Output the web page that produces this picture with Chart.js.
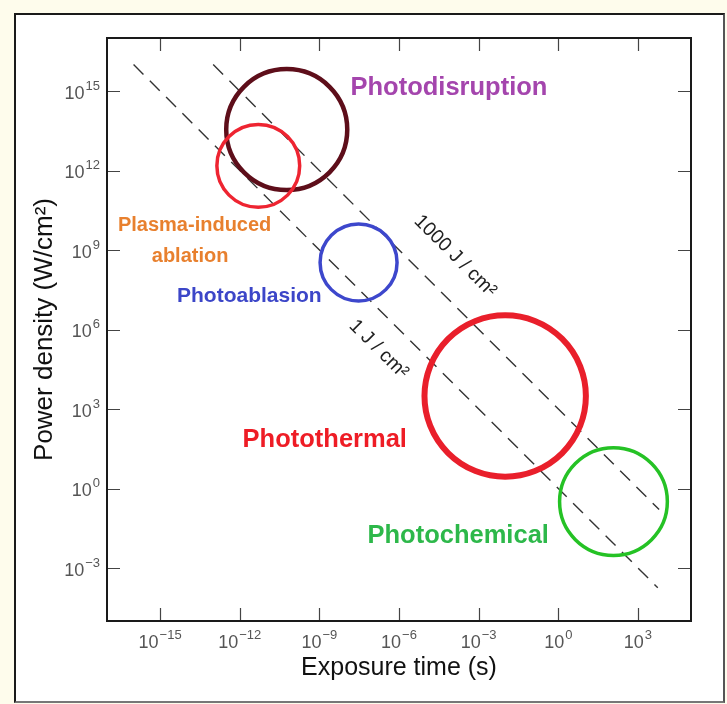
<!DOCTYPE html>
<html>
<head>
<meta charset="utf-8">
<title>Laser-tissue interaction regimes</title>
<script src="https://cdn.jsdelivr.net/npm/chart.js@4.4.1/dist/chart.umd.min.js"></script>
<style>
    html, body { margin: 0; padding: 0; }
    body { width: 727px; height: 704px; background: #fefcec; position: relative; overflow: hidden; }
    #frame {
        position: absolute; left: 14px; top: 13px; width: 711px; height: 690px;
        background: #fff; border: 2px solid #1a1a1a; border-bottom-color: #777; border-right-color: #555;
        box-sizing: border-box;
    }
    #chart { position: absolute; left: 0; top: 0; }
</style>
</head>
<body>
<div id="frame"></div>
<canvas id="chart" width="727" height="704"></canvas>
<script>
// regimes: centre (exposure time s, power density W/cm2) and radius in decades
const regimes = ['Photodisruption', 'Plasma-induced ablation', 'Photoablasion', 'Photothermal', 'Photochemical']
const regime_time = [5.9e-11, 5.0e-12, 3.0e-8, 1.0e-2, 1.2e2]
const regime_power = [3.5e13, 1.5e12, 3.4e8, 3.1e3, 0.32]
const regime_span = [2.28, 1.56, 1.45, 3.04, 2.03]

// constant fluence lines (end points)
const fluence_labels = ['1 J / cm²', '1000 J / cm²']
const fluence_1 = [{x: 1e-16, y: 1e16}, {x: 5.6e3, y: 1.8e-4}]
const fluence_1000 = [{x: 1e-13, y: 1e16}, {x: 6.3e3, y: 0.16}]

const x_tick_powers = [-15, -12, -9, -6, -3, 0, 3]
const y_tick_powers = [-3, 0, 3, 6, 9, 12, 15]

const regime_colors = ['#5e0e1a', '#ee2431', '#3d47cc', '#e91f2b', '#25c225']
const regime_widths = [4.5, 3.5, 3.5, 6, 3.5]

const FONT = '"Liberation Sans", Arial, "DejaVu Sans", sans-serif'

// text placed on the plot, anchored in data coordinates
const notes = [
    {text: 'Photodisruption', at: [7.6e-5, 1.3e15], color: '#a445ad', size: 25.5, bold: true},
    {text: 'Plasma-induced', at: [2.0e-14, 8.1e9], color: '#e8802e', size: 20, bold: true},
    {text: 'ablation', at: [1.35e-14, 5.9e8], color: '#e8802e', size: 20, bold: true},
    {text: 'Photoablasion', at: [2.3e-12, 1.8e7], color: '#3c46c8', size: 21, bold: true},
    {text: 'Photothermal', at: [1.6e-9, 68], color: '#ee1c25', size: 25.5, bold: true},
    {text: 'Photochemical', at: [1.7e-4, 1.6e-2], color: '#2db84a', size: 25.5, bold: true},
    {text: fluence_labels[1], at: [1.3e-4, 5.9e8], color: '#222', size: 19.5, rotate: true},
    {text: fluence_labels[0], at: [1.7e-7, 1.8e5], color: '#222', size: 19.5, rotate: true}
]

function exponent_of(v)
{
    const p = Math.round(Math.log10(v))
    return (p < 0 ? '\u2212' : '') + Math.abs(p)
}

function decade_px(chart)
{
    const x = chart.scales.x
    return x.getPixelForValue(10) - x.getPixelForValue(1)
}

// 10 with a raised exponent; anchor 'center' or 'right'
function draw_power(ctx, v, px, baseline, anchor)
{
    const base = '10', exp = exponent_of(v)
    ctx.font = '18px ' + FONT
    const wb = ctx.measureText(base).width
    ctx.font = '13px ' + FONT
    const we = ctx.measureText(exp).width
    const total = wb + 1 + we
    const start = anchor === 'center' ? px - total / 2 : px - total
    ctx.font = '18px ' + FONT
    ctx.fillText(base, start, baseline)
    ctx.font = '13px ' + FONT
    ctx.fillText(exp, start + wb + 1, baseline - 9)
}

const frame_plugin = {
    id: 'frame_ticks',
    beforeDatasetsDraw(chart)
    {
        const {ctx, chartArea: a, scales: {x, y}} = chart
        ctx.save()
        ctx.strokeStyle = '#444'
        ctx.lineWidth = 1.2
        ctx.beginPath()
        x.ticks.forEach(t => {
            const px = Math.round(x.getPixelForValue(t.value)) + 0.5
            ctx.moveTo(px, a.bottom); ctx.lineTo(px, a.bottom - 13)
            ctx.moveTo(px, a.top); ctx.lineTo(px, a.top + 13)
        })
        y.ticks.forEach(t => {
            const py = Math.round(y.getPixelForValue(t.value)) + 0.5
            ctx.moveTo(a.left, py); ctx.lineTo(a.left + 13, py)
            ctx.moveTo(a.right, py); ctx.lineTo(a.right - 13, py)
        })
        ctx.stroke()
        ctx.strokeStyle = '#1a1a1a'
        ctx.lineWidth = 2
        ctx.strokeRect(a.left, a.top, a.right - a.left, a.bottom - a.top)

        // tick labels
        ctx.fillStyle = '#555'
        ctx.textAlign = 'left'
        ctx.textBaseline = 'alphabetic'
        x.ticks.forEach(t => draw_power(ctx, t.value, x.getPixelForValue(t.value), a.bottom + 27, 'center'))
        y.ticks.forEach(t => draw_power(ctx, t.value, a.left - 7, y.getPixelForValue(t.value) + 7.5, 'right'))
        ctx.restore()
    }
}

const notes_plugin = {
    id: 'notes',
    afterDatasetsDraw(chart)
    {
        const {ctx, scales: {x, y}} = chart
        const dx = x.getPixelForValue(fluence_1[1].x) - x.getPixelForValue(fluence_1[0].x)
        const dy = y.getPixelForValue(fluence_1[1].y) - y.getPixelForValue(fluence_1[0].y)
        const angle = Math.atan2(dy, dx)
        ctx.save()
        ctx.textAlign = 'center'
        ctx.textBaseline = 'middle'
        notes.forEach(n => {
            ctx.save()
            ctx.translate(x.getPixelForValue(n.at[0]), y.getPixelForValue(n.at[1]))
            if(n.rotate)
                ctx.rotate(angle)
            ctx.font = (n.bold ? 'bold ' : '') + n.size + 'px ' + FONT
            ctx.fillStyle = n.color
            ctx.fillText(n.text, 0, 0)
            ctx.restore()
        })
        ctx.restore()
    }
}

let regime_chart = null

function load_regime_chart()
{
    const ctx = document.getElementById('chart').getContext('2d')

    if(regime_chart)
        regime_chart.destroy()

    regime_chart = new Chart(ctx,
        {
            type: 'scatter',
            data: {
                datasets: [
                    {
                        label: 'Regimes',
                        data: regime_time.map((t, i) => ({x: t, y: regime_power[i]})),
                        pointRadius: c => regime_span[c.dataIndex] * decade_px(c.chart),
                        pointBorderColor: regime_colors,
                        pointBorderWidth: regime_widths,
                        pointBackgroundColor: 'rgba(0,0,0,0)',
                        showLine: false
                    },
                    {
                        label: fluence_labels[0],
                        data: fluence_1,
                        showLine: true,
                        pointRadius: 0,
                        borderColor: '#333',
                        borderWidth: 1.4,
                        borderDash: [14, 9]
                    },
                    {
                        label: fluence_labels[1],
                        data: fluence_1000,
                        showLine: true,
                        pointRadius: 0,
                        borderColor: '#333',
                        borderWidth: 1.4,
                        borderDash: [14, 9]
                    }
                ]
            },
            options: {
                responsive: false,
                animation: false,
                events: [],
                layout: {padding: {left: 0, top: 38, right: 36, bottom: 0}},
                plugins: {legend: {display: false}, tooltip: {enabled: false}},
                scales: {
                    x: {
                        type: 'logarithmic',
                        min: 1e-17,
                        max: 1e5,
                        afterBuildTicks: s => { s.ticks = x_tick_powers.map(p => ({value: Math.pow(10, p)})) },
                        afterFit: s => { s.height = 83 },
                        grid: {display: false, drawTicks: false},
                        border: {display: false},
                        ticks: {display: false},
                        title: {
                            display: true,
                            text: 'Exposure time (s)',
                            color: '#111',
                            font: {family: FONT, size: 25},
                            padding: {top: 0, bottom: 21}
                        }
                    },
                    y: {
                        type: 'logarithmic',
                        min: 1e-5,
                        max: 1e17,
                        afterBuildTicks: s => { s.ticks = y_tick_powers.map(p => ({value: Math.pow(10, p)})) },
                        afterFit: s => { s.width = 107 },
                        grid: {display: false, drawTicks: false},
                        border: {display: false},
                        ticks: {display: false},
                        title: {
                            display: true,
                            text: 'Power density (W/cm²)',
                            color: '#111',
                            font: {family: FONT, size: 26},
                            padding: {top: 29, bottom: 0}
                        }
                    }
                }
            },
            plugins: [frame_plugin, notes_plugin]
        }
    )
}

function init()
{
    load_regime_chart()
}

init()
</script>
</body>
</html>
